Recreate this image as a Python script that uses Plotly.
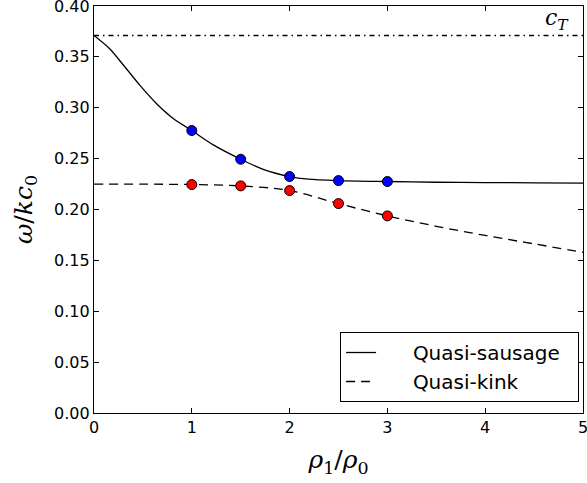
import plotly.graph_objects as go

# Curves
sausage_x = [0, 0.16, 0.30, 0.47, 0.64, 0.81, 1.0, 1.22, 1.5, 1.73, 2.0, 2.19, 2.5, 3.0, 3.5, 4.0, 4.5, 5.0]
sausage_y = [0.371, 0.358, 0.342, 0.322, 0.304, 0.2895, 0.2776, 0.2635, 0.2494, 0.2395, 0.2324, 0.2298, 0.2284, 0.2275, 0.2268, 0.2265, 0.2262, 0.226]
kink_x = [0, 0.5, 1.0, 1.5, 2.0, 2.5, 3.0, 3.5, 4.0, 4.5, 5.0]
kink_y = [0.225, 0.2249, 0.2245, 0.2232, 0.2186, 0.2058, 0.1937, 0.1835, 0.1745, 0.1662, 0.158]

# Sample points
pts_x = [1.0, 1.5, 2.0, 2.5, 3.0]
sausage_pts = [0.2776, 0.2494, 0.2324, 0.2284, 0.2275]
kink_pts = [0.2245, 0.2232, 0.2186, 0.2058, 0.1937]

c_T = 0.371

fig = go.Figure()
fig.add_trace(go.Scatter(x=[0, 5], y=[c_T, c_T], mode="lines", showlegend=False,
                         line=dict(color="black", width=1.3, dash="5px,4px,1.5px,4px")))
fig.add_trace(go.Scatter(x=sausage_x, y=sausage_y, mode="lines",
                         name="&nbsp;&nbsp;&nbsp;&nbsp;&nbsp;Quasi-sausage&nbsp;&nbsp;",
                         line=dict(color="black", width=1.3, shape="spline", smoothing=0.8)))
fig.add_trace(go.Scatter(x=kink_x, y=kink_y, mode="lines",
                         name="&nbsp;&nbsp;&nbsp;&nbsp;&nbsp;Quasi-kink",
                         line=dict(color="black", width=1.3, dash="9px,6px", shape="spline")))
fig.add_trace(go.Scatter(x=pts_x, y=sausage_pts, mode="markers", showlegend=False,
                         marker=dict(color="blue", size=10, line=dict(color="black", width=1))))
fig.add_trace(go.Scatter(x=pts_x, y=kink_pts, mode="markers", showlegend=False,
                         marker=dict(color="red", size=10, line=dict(color="black", width=1))))

fig.add_annotation(x=4.73, y=0.387, xref="x", yref="y", showarrow=False,
                   text="<i>c</i><sub><i>T</i></sub>",
                   font=dict(family="DejaVu Serif", size=22, color="black"))

axis_common = dict(showgrid=False, zeroline=False, showline=True, linecolor="black", linewidth=1.3,
                   mirror="ticks", ticks="inside", ticklen=5, tickwidth=1, tickcolor="black",
                   ticklabeloverflow="allow", automargin=False,
                   tickfont=dict(family="DejaVu Sans", size=16, color="black"))

fig.update_layout(
    width=587, height=483,
    margin=dict(l=94, r=4, t=6, b=70),
    paper_bgcolor="white", plot_bgcolor="white",
    xaxis=dict(range=[0, 5], tickvals=[0, 1, 2, 3, 4, 5], ticktext=["0", "1", "2", "3", "4", "5"],
               title=dict(text="<i>ρ</i><sub>1</sub>/<i>ρ</i><sub>0</sub>",
                          font=dict(family="DejaVu Serif", size=25, color="black"), standoff=14),
               **axis_common),
    yaxis=dict(range=[0, 0.4], tickvals=[0, 0.05, 0.1, 0.15, 0.2, 0.25, 0.3, 0.35, 0.4],
               tickformat=".2f",
               title=dict(text="<i>ω</i>/<i>kc</i><sub>0</sub>",
                          font=dict(family="DejaVu Serif", size=25, color="black"), standoff=14),
               **axis_common),
    legend=dict(x=0.992, y=0.027, xanchor="right", yanchor="bottom",
                bordercolor="black", borderwidth=1, bgcolor="white",
                font=dict(family="DejaVu Sans", size=20, color="black"),
                tracegroupgap=0),
)

fig.write_html("out.html")
